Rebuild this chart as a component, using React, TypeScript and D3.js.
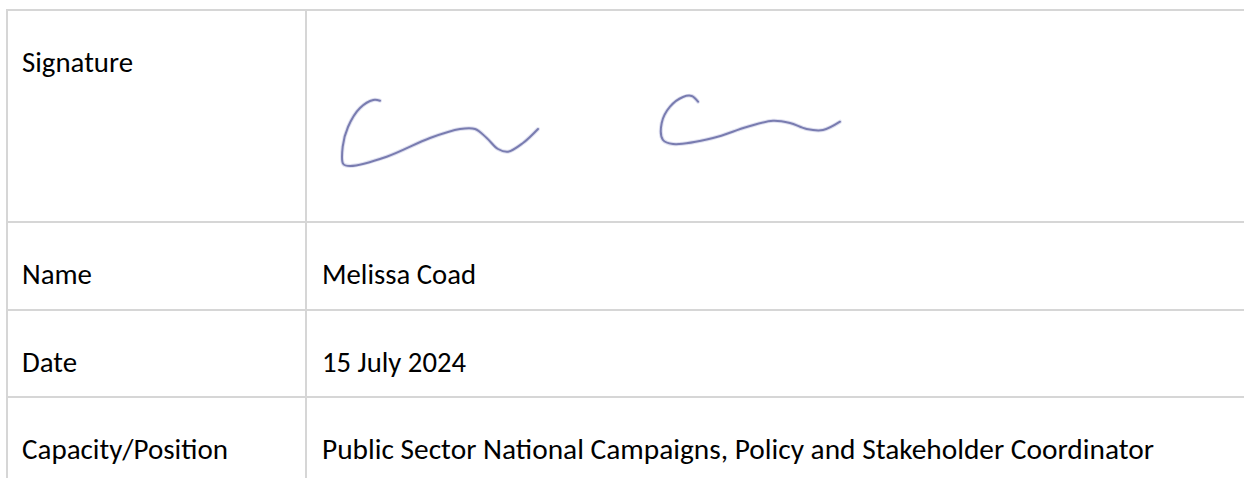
import React, { useEffect, useRef } from "react";
import * as d3 from "d3";

// ---- data ----
const rowLabels = ["Signature", "Name", "Date", "Capacity/Position"];
const rowValues = [
  "",
  "Melissa Coad",
  "15 July 2024",
  "Public Sector National Campaigns, Policy and Stakeholder Coordinator",
];

// signature strokes
const strokeOne: [number, number][] = [
  [380, 100.7], [373.3, 100], [360, 108], [348, 127], [342.7, 146.7],
  [343.3, 164], [350, 166], [386.7, 156.7], [430, 138], [460, 129],
  [475, 129], [486.7, 138], [498, 149], [508, 151.7], [523, 143], [538, 129],
];
const strokeTwo: [number, number][] = [
  [698, 101.7], [691.7, 96], [683, 97], [670, 106.7], [661.7, 123],
  [663, 140], [673, 144], [713, 138], [746.7, 127], [773, 120.7],
  [790, 123], [806.7, 129], [823, 130], [840, 121.7],
];

// ---- layout ----
const W = 1244;
const H = 478;
const LEFT = 7;
const DIVIDER = 306;
const ROW_EDGES = [10, 222, 310, 397, 520];
const LABEL_WIDTHS = [111, 70, 55, 206];
const VALUE_WIDTHS = [0, 154, 144, 832];
const GRID = "#d6d6d6";
const FONT = "Carlito, Calibri, Lato, 'Noto Sans', sans-serif";
const FS = 28;

export default function App() {
  const ref = useRef<SVGSVGElement>(null);

  useEffect(() => {
    const svg = d3.select(ref.current);
    svg.selectAll("*").remove();

    svg.append("rect").attr("width", W).attr("height", H).attr("fill", "#ffffff");

    const g = svg.append("g");

    ROW_EDGES.slice(0, 4).forEach((y) => {
      g.append("line")
        .attr("x1", LEFT).attr("x2", W)
        .attr("y1", y).attr("y2", y)
        .attr("stroke", GRID).attr("stroke-width", 2);
    });
    [LEFT, DIVIDER].forEach((x) => {
      g.append("line")
        .attr("x1", x).attr("x2", x)
        .attr("y1", ROW_EDGES[0] - 1).attr("y2", H)
        .attr("stroke", GRID).attr("stroke-width", 2);
    });

    rowLabels.forEach((lab, i) => {
      const base = ROW_EDGES[i] + 62;
      g.append("text")
        .attr("x", 22).attr("y", base)
        .attr("font-family", FONT).attr("font-size", FS)
        .attr("textLength", LABEL_WIDTHS[i])
        .attr("lengthAdjust", "spacingAndGlyphs")
        .attr("fill", "#000").text(lab);
      if (rowValues[i]) {
        g.append("text")
          .attr("x", 322).attr("y", base)
          .attr("font-family", FONT).attr("font-size", FS)
          .attr("textLength", VALUE_WIDTHS[i])
          .attr("lengthAdjust", "spacingAndGlyphs")
          .attr("fill", "#000").text(rowValues[i]);
      }
    });

    const line = d3.line<[number, number]>()
      .x((d) => d[0]).y((d) => d[1])
      .curve(d3.curveCatmullRom.alpha(0.5));
    [strokeOne, strokeTwo].forEach((pts) => {
      g.append("path")
        .attr("d", line(pts) as string)
        .attr("fill", "none")
        .attr("stroke", "#c9cbe6")
        .attr("stroke-width", 4)
        .attr("stroke-linecap", "round")
        .attr("stroke-linejoin", "round")
        .attr("opacity", 0.6);
      g.append("path")
        .attr("d", line(pts) as string)
        .attr("fill", "none")
        .attr("stroke", "#6e71a9")
        .attr("stroke-width", 2)
        .attr("stroke-linecap", "round")
        .attr("stroke-linejoin", "round")
        .attr("opacity", 0.9);
    });
  }, []);

  return (
    <svg
      ref={ref}
      width={W}
      height={H}
      style={{ position: "absolute", left: 0, top: 0, display: "block" }}
    />
  );
}
